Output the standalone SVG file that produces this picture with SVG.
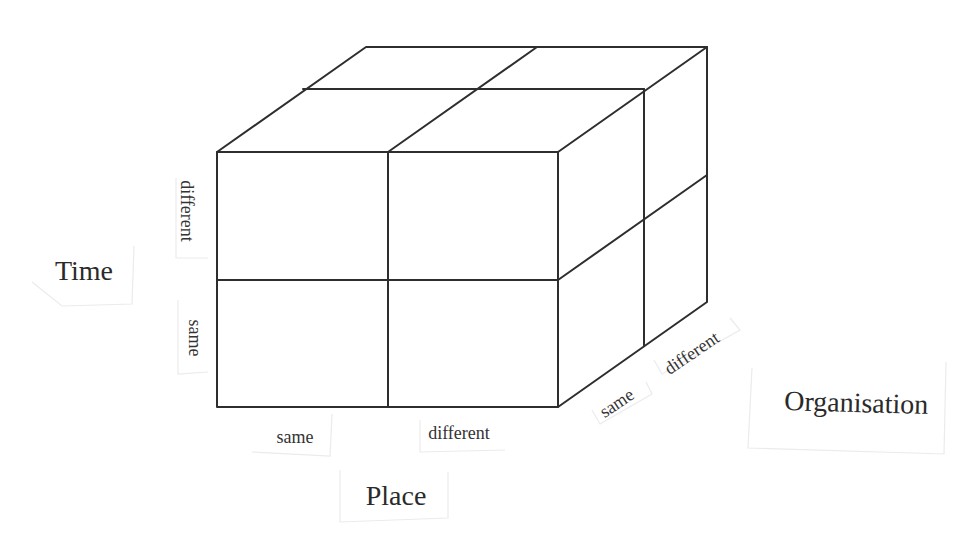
<svg xmlns="http://www.w3.org/2000/svg" width="977" height="548" viewBox="0 0 977 548">
<style>
.edge{stroke:#2e2e2e;stroke-width:2;fill:none;stroke-linecap:round;stroke-linejoin:round}
.card{stroke:#ebebeb;stroke-width:1.2;fill:none}
.lbl{font-family:"Liberation Serif","Times New Roman",serif;fill:#333;font-size:18px;text-anchor:middle}
.ttl{font-family:"Liberation Serif","Times New Roman",serif;fill:#2a2a2a;font-size:28px;text-anchor:middle}
</style>
<rect width="977" height="548" fill="#ffffff"/>
<g id="cards">
<path class="card" d="M32 282 L62 306 L132 304 L134 246"/>
<path class="card" d="M176 178 L176 258 L208 258"/>
<path class="card" d="M178 300 L178 374 L208 372"/>
<path class="card" d="M252 452 L330 456 L332 414"/>
<path class="card" d="M420 420 L420 452 L505 450"/>
<path class="card" d="M340 470 L340 522 L448 518 L448 472"/>
<path class="card" d="M592 410 L600 424 L652 394 L646 382"/>
<path class="card" d="M654 360 L662 374 L740 330 L730 318"/>
<path class="card" d="M752 368 L748 448 L944 454 L946 362"/>
</g>
<g id="connectors">
<path class="edge" d="M217 152 L558 152 L558 407 L217 407 Z"/>
<path class="edge" d="M388 152 L388 407"/>
<path class="edge" d="M217 280 L558 280"/>
<path class="edge" d="M217 152 L366 47 L707 47 L558 152"/>
<path class="edge" d="M388 152 L537 47"/>
<path class="edge" d="M303 89 L644 89"/>
<path class="edge" d="M707 47 L707 302 L558 407"/>
<path class="edge" d="M644 89 L644 346"/>
<path class="edge" d="M558 280 L707 175"/>
</g>
<g id="time-axis">
<text class="ttl" x="84" y="280">Time</text>
<text class="lbl" transform="translate(181 211) rotate(90)" x="0" y="0">different</text>
<text class="lbl" transform="translate(189 338) rotate(90)" x="0" y="0">same</text>
</g>
<g id="place-axis">
<text class="ttl" x="396" y="505">Place</text>
<text class="lbl" x="295" y="443">same</text>
<text class="lbl" x="459" y="439">different</text>
</g>
<g id="organisation-axis">
<text class="ttl" transform="translate(856 412) rotate(1.5)" x="0" y="0">Organisation</text>
<text class="lbl" transform="translate(620 408) rotate(-34)" x="0" y="0">same</text>
<text class="lbl" transform="translate(695 358) rotate(-34)" x="0" y="0">different</text>
</g>
</svg>
